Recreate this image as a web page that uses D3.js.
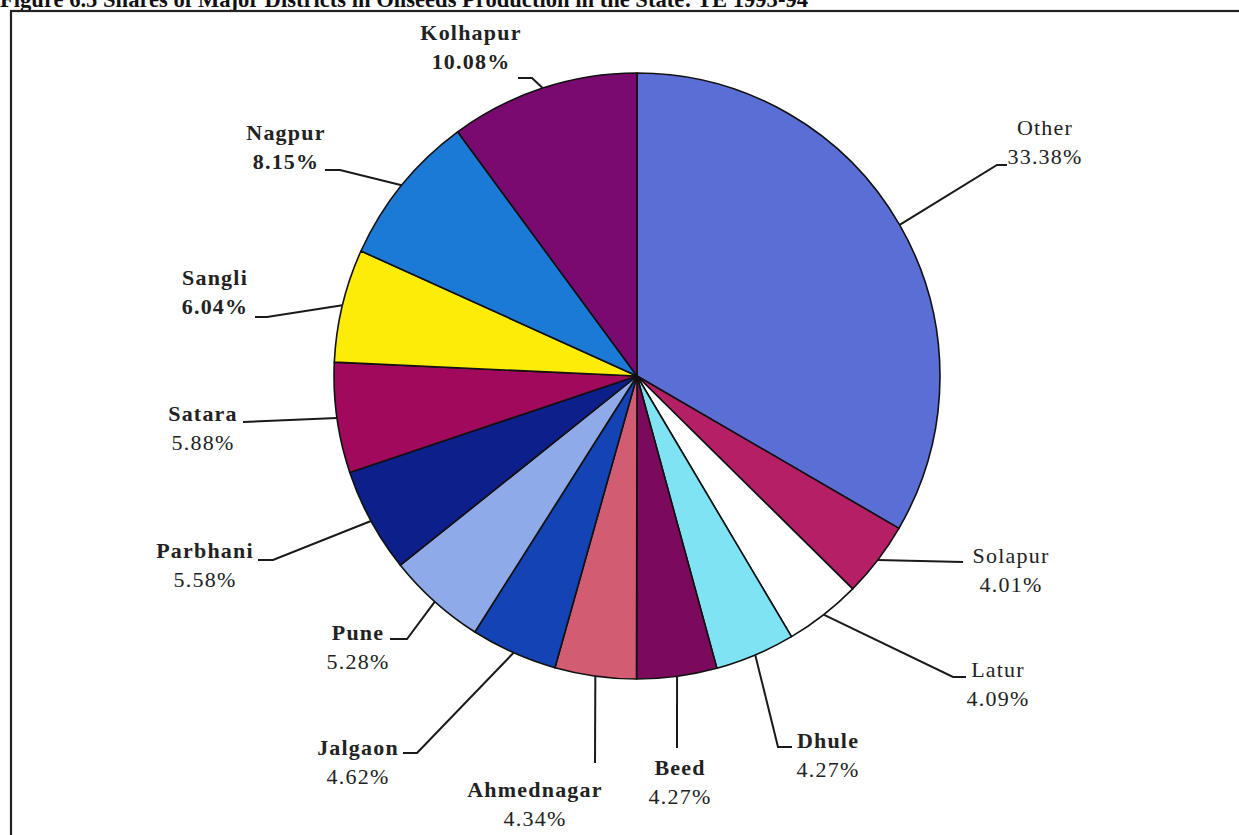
<!DOCTYPE html>
<html>
<head>
<meta charset="utf-8">
<script src="https://cdn.jsdelivr.net/npm/d3@7"></script>
<style>
  html, body { margin: 0; padding: 0; background: #fff; }
  svg { display: block; font-family: "Liberation Serif", "Times New Roman", serif; }
</style>
</head>
<body>
<svg id="chart" width="1239" height="835"></svg>
<script>
// Shares of major districts in oilseeds production (TE 1993-94), clockwise from 12 o'clock
const districts = ["Other", "Solapur", "Latur", "Dhule", "Beed", "Ahmednagar", "Jalgaon",
                   "Pune", "Parbhani", "Satara", "Sangli", "Nagpur", "Kolhapur"];
const shares = [33.38, 4.01, 4.09, 4.27, 4.27, 4.34, 4.62, 5.28, 5.58, 5.88, 6.04, 8.15, 10.08];
const shareLabels = ["33.38%", "4.01%", "4.09%", "4.27%", "4.27%", "4.34%", "4.62%",
                     "5.28%", "5.58%", "5.88%", "6.04%", "8.15%", "10.08%"];
const sliceColors = ["#5b6ed6", "#b51f66", "#ffffff", "#7fe3f4", "#7c0a5c", "#d25c72", "#1443b5",
                     "#8eaae8", "#0c1f8a", "#a10a5c", "#fcec08", "#1b7ad6", "#7b0a70"];

const title = "Figure 6.5 Shares of Major Districts in Oilseeds Production in the State: TE 1993-94";

// label placement: leader elbow, leader end, label centre x, name baseline y, bold name
const labelLayout = [
  { elbow: [997, 165], end: [1007, 165], cx: 1045, y: 135, bold: false },
  { elbow: [963, 562], end: [963, 562], cx: 1011, y: 563, bold: false },
  { elbow: [953, 677], end: [966, 677], cx: 998, y: 677, bold: false },
  { elbow: [778, 747], end: [792, 747], cx: 828, y: 748, bold: true },
  { elbow: [677, 748], end: [677, 748], cx: 680, y: 775, bold: true },
  { elbow: [595, 763], end: [595, 763], cx: 535, y: 797, bold: true },
  { elbow: [417, 753], end: [403, 753], cx: 358, y: 755, bold: true },
  { elbow: [407, 639], end: [390, 639], cx: 358, y: 640, bold: true },
  { elbow: [273, 560], end: [258, 560], cx: 205, y: 558, bold: true },
  { elbow: [243, 422], end: [243, 422], cx: 203, y: 421, bold: true },
  { elbow: [267, 317], end: [255, 317], cx: 215, y: 285, bold: true },
  { elbow: [340, 170], end: [325, 170], cx: 286, y: 140, bold: true },
  { elbow: [532, 78], end: [518, 78], cx: 471, y: 40, bold: true }
];

const cx = 637, cy = 376, r = 303;
const svg = d3.select("#chart");

// title, cut off by the top of the page as in the scan
svg.append("text")
  .attr("x", 0).attr("y", 7)
  .attr("font-size", 24).attr("font-weight", "bold").attr("fill", "#111")
  .attr("textLength", 808).attr("lengthAdjust", "spacingAndGlyphs")
  .text(title);

// frame
svg.append("rect")
  .attr("x", 11).attr("y", 11).attr("width", 1250).attr("height", 860)
  .attr("fill", "none").attr("stroke", "#222").attr("stroke-width", 2.2);

const pie = d3.pie().sort(null).value(d => d)
  .startAngle(0).endAngle(2 * Math.PI);
const arcs = pie(shares);
const arc = d3.arc().innerRadius(0).outerRadius(r);
const rim = d3.arc().innerRadius(r).outerRadius(r);

const g = svg.append("g").attr("transform", `translate(${cx},${cy})`);
g.selectAll("path.slice")
  .data(arcs)
  .join("path")
  .attr("class", "slice")
  .attr("d", arc)
  .attr("fill", (d, i) => sliceColors[i])
  .attr("stroke", "#111")
  .attr("stroke-width", 1.6)
  .attr("stroke-linejoin", "round");

// leader lines
svg.append("g").selectAll("path")
  .data(arcs)
  .join("path")
  .attr("d", (d, i) => {
    const [px, py] = rim.centroid(d);
    const L = labelLayout[i];
    return d3.line()([[cx + px, cy + py], L.elbow, L.end]);
  })
  .attr("fill", "none")
  .attr("stroke", "#1a1a1a")
  .attr("stroke-width", 2);

// labels
const lab = svg.append("g").attr("fill", "#222").attr("font-size", 22)
  .attr("text-anchor", "middle").attr("letter-spacing", 1.2);
districts.forEach((name, i) => {
  const L = labelLayout[i];
  lab.append("text")
    .attr("x", L.cx).attr("y", L.y)
    .attr("font-weight", L.bold ? "bold" : "normal")
    .text(name);
  lab.append("text")
    .attr("x", L.cx).attr("y", L.y + 29)
    .attr("font-weight", i >= 10 ? "bold" : "normal")
    .text(shareLabels[i]);
});
</script>
</body>
</html>
